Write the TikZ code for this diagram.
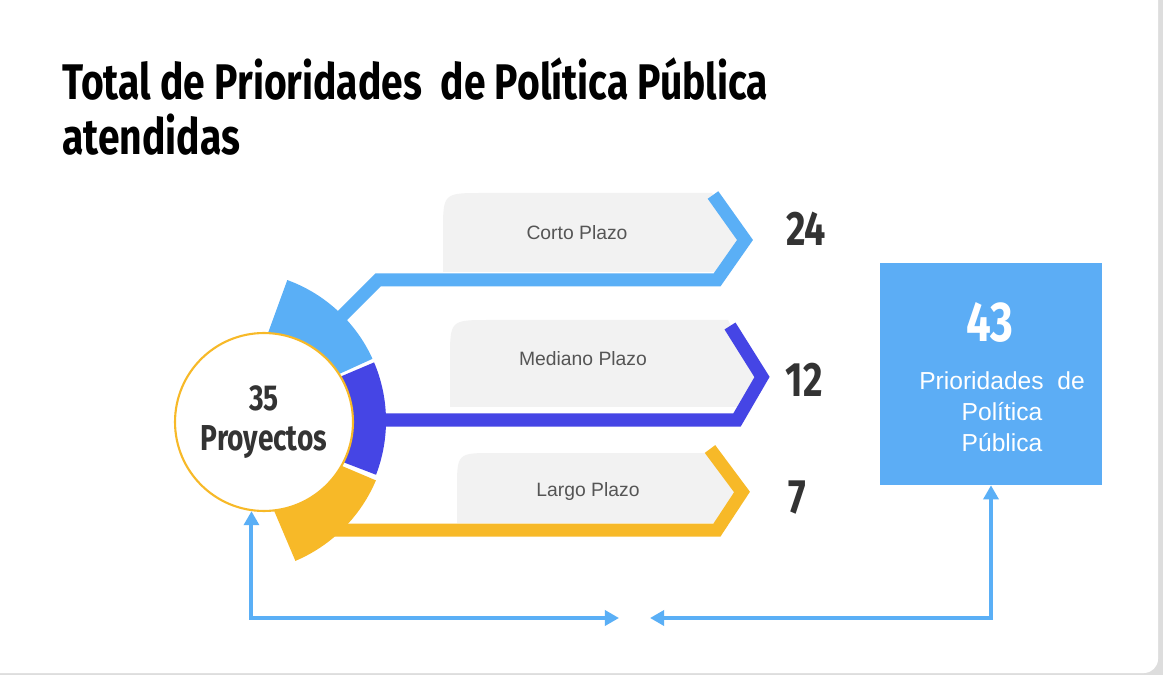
\documentclass[tikz,border=0pt]{standalone}
\usepackage{fontspec}
\setmainfont{Liberation Sans}
\newfontfamily\condfont[FakeStretch=0.78]{Fira Sans}
\usetikzlibrary{arrows.meta,positioning}
\definecolor{skyblue}{HTML}{5AAFF6}
\definecolor{indigo}{HTML}{4545E5}
\definecolor{amber}{HTML}{F7B928}
\definecolor{tabgray}{HTML}{F2F2F2}
\definecolor{labelgray}{HTML}{555555}
\definecolor{numgray}{HTML}{333333}
\definecolor{boxblue}{HTML}{5CADF5}
\definecolor{pagegray}{HTML}{DDDDDD}

\begin{document}
\begin{tikzpicture}[x=0.02cm,y=-0.02cm,
  ribbon/.style={line width=7.4pt, line join=miter},
  tab/.style={fill=tabgray},
  tablabel/.style={text=labelgray, font=\fontsize{11}{13}\selectfont},
  count/.style={text=numgray, font=\condfont\bfseries\fontsize{27.5}{30}\selectfont},
  headline/.style={anchor=base west, font=\condfont\bfseries\fontsize{28.5}{31}\selectfont},
  link/.style={draw=skyblue, line width=2.3pt, >={Triangle[length=8pt,width=8.5pt]}, <->}]
\useasboundingbox (0,0) rectangle (1163,675);
\fill[pagegray] (0,0) rectangle (1163,675);
\fill[white, rounded corners=8pt] (-20,-20) rectangle (1158,673);

\node[headline] (title) at (56,100) {Total de Prioridades \ de Política Pública};
\node[headline] (title2) at (56,155) {atendidas};

% tabs
\fill[tab] (443,272) -- (443,233) .. controls (443,193) and (443,193) .. (483,193) -- (712,193) -- (742,240) -- (717,272) -- cycle;
\fill[tab] (450,407) -- (450,360) .. controls (450,320) and (450,320) .. (490,320) -- (728,320) -- (757,377) -- (737,407) -- cycle;
\fill[tab] (457,523) -- (457,490) .. controls (457,453) and (457,453) .. (494,453) -- (708,453) -- (738,492) -- (717,523) -- cycle;
\node[tablabel] (corto) at (577,233) {Corto Plazo};
\node[tablabel] (mediano) at (583,359) {Mediano Plazo};
\node[tablabel] (largo) at (588,492) {Largo Plazo};

% ribbons
\coordinate (r1) at (338,320);
\coordinate (r2) at (362,420);
\coordinate (r3) at (335,530);
\draw[ribbon, skyblue] (r1) -- (378,280) -- (717,280) -- (745,240) -- (713,195);
\draw[ribbon, indigo] (r2) -- (737,420) -- (762,377) -- (730,326);
\draw[ribbon, amber] (r3) -- (717,530) -- (742,492) -- (710,449);

% ring
\coordinate (rc) at (236,421);
\fill[skyblue] (rc) -- ++(-70:150) arc[start angle=-70, end angle=-24.5, radius=150] -- cycle;
\fill[indigo] (rc) -- ++(-23:150) arc[start angle=-23, end angle=21, radius=150] -- cycle;
\fill[amber] (rc) -- ++(23:152) arc[start angle=23, end angle=67, radius=152] -- cycle;
\node[circle, draw=amber, line width=1.2pt, fill=white, minimum size=3.56cm, text=numgray, align=center,
  font=\condfont\bfseries\fontsize{20.5}{22.5}\selectfont] (proj) at (264,422) {35\\Proyectos};

\node[count] (n24) at (806,229) {24};
\node[count] (n12) at (804,380) {12};
\node[count] (n7) at (797,498) {7};

% total
\node[fill=boxblue, minimum width=4.44cm, minimum height=4.44cm] (box) at (991,374) {};
\node[text=white, font=\condfont\bfseries\fontsize{32}{34}\selectfont] (total) at (990,322) {43};
\node[text=white, align=center, font=\fontsize{14}{17.6}\selectfont] (prio) at (1002,412) {Prioridades \ de\\Política\\Pública};

\coordinate (gapl) at (619,618);
\coordinate (gapr) at (650,618);
\draw[link] (proj.-98) |- (gapl);
\draw[link] (gapr) -| (box.south);
\end{tikzpicture}
\end{document}
